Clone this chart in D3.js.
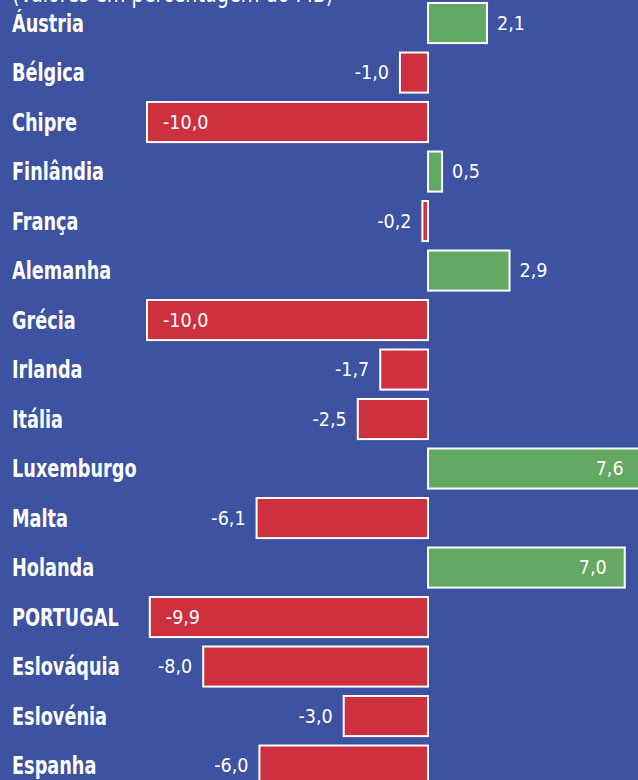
<!DOCTYPE html>
<html>
<head>
<meta charset="utf-8">
<script src="https://cdn.jsdelivr.net/npm/d3@7"></script>
<style>
  html, body { margin: 0; padding: 0; background: #3d52a1; overflow: hidden; }
  #container { width: 638px; height: 780px; }
</style>
</head>
<body>
<div id="container"></div>
<script>
const countries = ["Áustria","Bélgica","Chipre","Finlândia","França","Alemanha","Grécia","Irlanda",
                   "Itália","Luxemburgo","Malta","Holanda","PORTUGAL","Eslováquia","Eslovénia","Espanha"];
const balance = [2.1,-1.0,-10.0,0.5,-0.2,2.9,-10.0,-1.7,-2.5,7.6,-6.1,7.0,-9.9,-8.0,-3.0,-6.0];
const subtitle = "(Valores em percentagem do PIB)";

const data = countries.map((c, i) => ({ name: c, value: balance[i] }));

makeChart(data);

function makeChart(dataset){
  const w = 638;
  const h = 780;
  const step = 49.5;
  const font = "'DejaVu Sans Condensed', 'Liberation Sans Narrow', sans-serif";

  const xScale = d3.scaleLinear()
                   .domain([-10, 7.6])
                   .range([147, 641.6]);

  const yScale = d3.scaleBand()
                   .domain(dataset.map(d => d.name))
                   .range([3, 3 + step * (dataset.length - 0.19)])
                   .paddingInner(0.19)
                   .paddingOuter(0);

  const fmt = v => v.toFixed(1).replace(".", ",");

  let svg = d3.select("#container")
              .append("svg")
              .attr("width", w)
              .attr("height", h);

  svg.append("rect")
     .attr("width", w)
     .attr("height", h)
     .attr("fill", "#3d52a1");

  // subtitle sits mostly above the frame, as in the source
  svg.append("text")
     .attr("transform", "translate(12,2) scale(0.82,1)")
     .attr("fill", "#fff")
     .style("font-family", font)
     .style("font-size", "26px")
     .text(subtitle);

  const zero = xScale(0);

  svg.selectAll("rect.bar")
     .data(dataset)
     .enter()
     .append("rect")
     .attr("class", "bar")
     .attr("x", d => Math.min(zero, xScale(d.value)))
     .attr("y", d => yScale(d.name))
     .attr("width", d => Math.abs(xScale(d.value) - zero))
     .attr("height", yScale.bandwidth())
     .attr("fill", d => d.value < 0 ? "#cf3040" : "#63a863")
     .attr("stroke", "#fff")
     .attr("stroke-width", 2);

  svg.selectAll("text.name")
     .data(dataset)
     .enter()
     .append("text")
     .attr("class", "name")
     .attr("transform", d => "translate(12," + (yScale(d.name) + yScale.bandwidth() / 2 + 8.5) + ") scale(0.82,1)")
     .attr("fill", "#fff")
     .style("font-family", font)
     .style("font-weight", "bold")
     .style("font-size", "24px")
     .text(d => d.name);

  // long bars carry their label inside, short ones outside
  const inside = d => Math.abs(d.value) >= 7 && Math.abs(d.value) !== 8;

  svg.selectAll("text.val")
     .data(dataset)
     .enter()
     .append("text")
     .attr("class", "val")
     .attr("x", d => {
       const end = xScale(d.value);
       if (d.value < 0) return inside(d) ? end + 16 : end - 11;
       return inside(d) ? end - 18 : end + 10;
     })
     .attr("text-anchor", d => (d.value < 0) === inside(d) ? "start" : "end")
     .attr("y", d => yScale(d.name) + yScale.bandwidth() / 2 + 6.5)
     .attr("fill", "#fff")
     .style("font-family", font)
     .style("font-size", "19.5px")
     .text(d => fmt(d.value));
}
</script>
</body>
</html>
